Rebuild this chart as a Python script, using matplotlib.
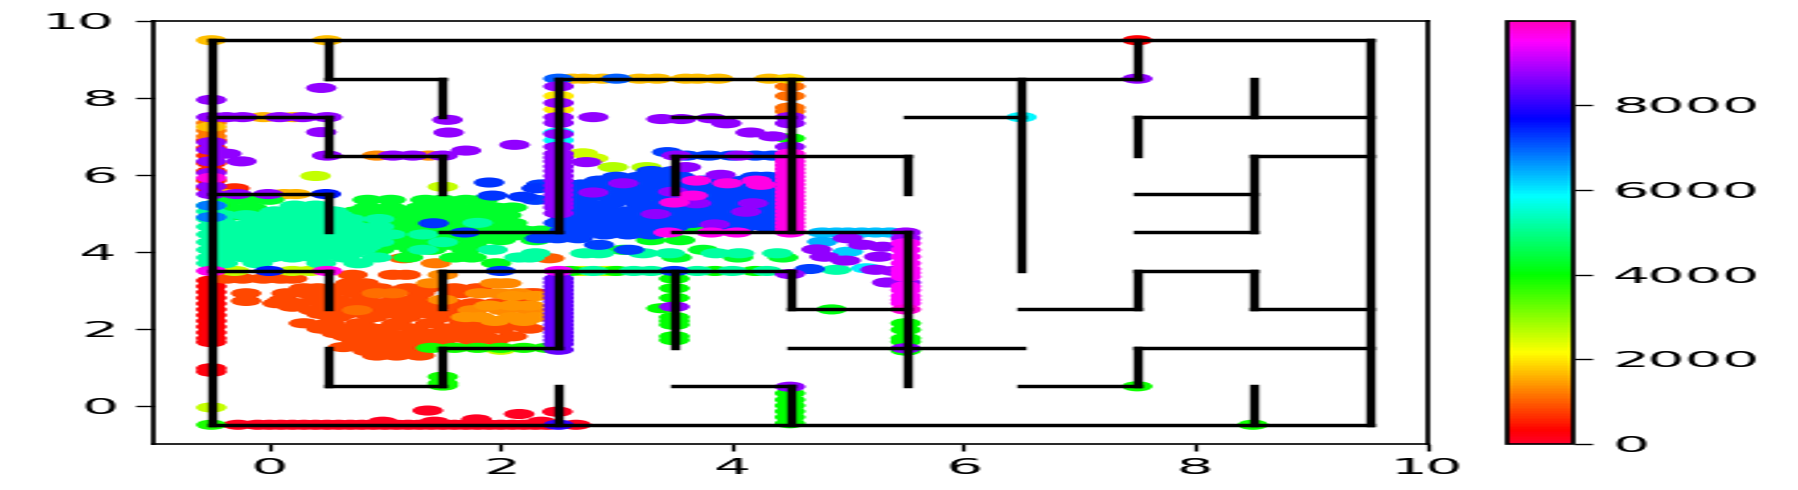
import matplotlib
matplotlib.use("Agg")
import matplotlib.pyplot as plt
from matplotlib.markers import MarkerStyle
from matplotlib.path import Path
from matplotlib.transforms import Affine2D
from PIL import Image

# maze walls: (y, x0, x1) and (x, y0, y1)
h_walls = [(9.5, -0.5, 9.5), (8.5, 0.5, 1.5), (8.5, 2.5, 7.5), (7.5, -0.5, 0.5), (7.5, 3.5, 4.5),
           (7.5, 5.5, 6.5), (7.5, 7.5, 9.5), (6.5, 0.5, 1.5), (6.5, 3.5, 5.5), (6.5, 8.5, 9.5),
           (5.5, -0.5, 0.5), (5.5, 7.5, 8.5), (4.5, 1.5, 2.5), (4.5, 3.5, 5.5), (4.5, 7.5, 8.5),
           (3.5, -0.5, 0.5), (3.5, 1.5, 4.5), (3.5, 7.5, 8.5), (2.5, 4.5, 5.5), (2.5, 6.5, 7.5),
           (2.5, 8.5, 9.5), (1.5, 1.5, 2.5), (1.5, 4.5, 6.5), (1.5, 7.5, 9.5), (0.5, 0.5, 1.5),
           (0.5, 3.5, 4.5), (0.5, 6.5, 7.5), (-0.5, -0.5, 9.5)]
v_walls = [(-0.5, -0.5, 9.5), (0.5, 8.5, 9.5), (0.5, 6.5, 7.5), (0.5, 4.5, 5.5), (0.5, 2.5, 3.5),
           (0.5, 0.5, 1.5), (1.5, 7.5, 8.5), (1.5, 5.5, 6.5), (1.5, 2.5, 3.5), (1.5, 0.5, 1.5),
           (2.5, 4.5, 8.5), (2.5, 1.5, 3.5), (2.5, -0.5, 0.5), (3.5, 5.5, 6.5), (3.5, 1.5, 3.5),
           (4.5, 4.5, 8.5), (4.5, 2.5, 3.5), (4.5, -0.5, 0.5), (5.5, 5.5, 6.5), (5.5, 0.5, 4.5),
           (6.5, 3.5, 8.5), (7.5, 8.5, 9.5), (7.5, 6.5, 7.5), (7.5, 2.5, 3.5), (7.5, 0.5, 1.5),
           (8.5, 7.5, 8.5), (8.5, 4.5, 6.5), (8.5, 2.5, 3.5), (8.5, -0.5, 0.5), (9.5, -0.5, 9.5)]

# visits, rows are (time, y, [x...])
bottom_rows = [(100, -0.5, [-0.27, -0.1, 0.0, 0.1, 0.2, 0.3, 0.4, 0.5, 0.6, 0.7, 0.8, 0.9, 1.0, 1.1, 1.2, 1.3, 1.4,
                            1.5, 1.6, 1.7, 1.8, 1.9, 2.0, 2.1, 2.2, 2.3, 2.4, 2.65]),
               (50, -0.13, [1.37]), (50, -0.22, [2.16]), (50, -0.16, [2.49]), (50, -0.42, [0.98, 1.43, 2.35]),
               (50, -0.36, [1.79]), (2600, -0.05, [-0.5]), (3800, -0.5, [-0.5]), (8000, -0.5, [2.5])]
orange_rows = [(850, 3.3, [-0.37, -0.23, -0.05, 0.1, 0.2]),
               (850, 3.4, [0.72, 1.07, 1.18]), (1300, 3.4, [1.5]),
               (850, 3.18, [0.7, 0.82]), (1300, 3.18, [1.4, 2.05, 1.95]),
               (850, 2.92, [-0.2, 0.15, 0.32, 0.52, 0.75, 1.3, 1.65, 2.25, 2.3]), (1100, 2.92, [0.93, 1.07]),
               (1300, 2.92, [1.82, 1.98, 2.15]),
               (850, 2.75, [0.12, 0.41, 0.58, 0.82, 1.1, 1.27]), (1300, 2.75, [1.5]), (850, 2.72, [-0.2]),
               (850, 2.66, [0.07, 0.24, 0.47, 0.64, 0.96, 1.24, 1.56, 1.76, 1.96, 2.19]),
               (850, 2.48, [0.38, 0.75, 1.04, 1.3]), (1100, 2.48, [0.76]), (1300, 2.48, [1.76, 2.02, 2.25]),
               (850, 2.3, [0.58, 0.9, 1.19, 1.5]), (1400, 2.3, [1.7, 1.82, 2.1, 2.3]),
               (850, 2.14, [0.3, 0.52, 0.78, 1.1, 1.39, 1.68, 1.94, 2.11]),
               (850, 1.88, [0.58, 0.81, 1.01, 1.24, 1.44, 1.67, 1.82]),
               (850, 1.8, [0.67, 0.99, 1.16, 1.33, 1.62, 1.85, 2.1]),
               (850, 1.52, [0.64, 0.87, 1.04, 1.21, 1.44]),
               (850, 1.3, [0.93, 1.1, 1.3]),
               (850, 3.05, [0.3, 0.42, 0.6, 0.8, 0.95, 1.2, 1.35, 1.6, 1.8]),
               (850, 2.57, [0.2, 0.55, 0.7, 0.9, 1.15, 1.4, 1.65, 1.85]),
               (850, 2.38, [0.45, 0.65, 0.85, 1.1, 1.2, 1.4, 1.6]),
               (850, 2.0, [0.45, 0.65, 0.9, 1.0, 1.25, 1.55, 1.8, 2.0, 2.25]),
               (850, 1.7, [0.75, 0.9, 1.1, 1.3, 1.5, 1.75, 1.95]),
               (850, 1.42, [0.85, 1.0, 1.2]),
               (1400, 2.6, [1.9, 2.1, 2.25]), (1400, 2.85, [2.1, 2.3]), (1400, 2.2, [1.95, 2.2])]
left_rows = [(200, 0.97, [-0.5]), (200, 0.88, [-0.5]),
             (250, 1.65, [-0.5]), (250, 1.75, [-0.5]), (250, 1.9, [-0.5]), (250, 2.05, [-0.5]), (250, 2.2, [-0.5]),
             (300, 2.35, [-0.5]), (300, 2.5, [-0.5]), (300, 2.65, [-0.5]), (300, 2.8, [-0.5]), (300, 2.95, [-0.5]),
             (300, 3.1, [-0.5]), (300, 3.25, [-0.5]),
             (600, 6.9, [-0.5]), (600, 6.7, [-0.5]), (600, 6.5, [-0.5]), (600, 6.3, [-0.5]),
             (600, 6.1, [-0.5]), (600, 5.85, [-0.5]), (600, 5.65, [-0.3, -0.5]),
             (1200, 7.35, [-0.5]), (1200, 7.15, [-0.5]), (1200, 7.0, [-0.5]), (1700, 7.25, [-0.5]),
             (1600, 7.5, [-0.05, 0.21]), (1600, 5.5, [0.23, -0.37, 0.13]),
             (1700, 9.5, [-0.5, 0.5]), (1300, 6.5, [0.93, 1.38]),
             (2600, 5.97, [0.4]), (2600, 5.69, [1.5]), (2600, 3.5, [-0.3, 0.2, 0.35, 2.9, 2.7, 2.95]),
             (6800, 5.2, [-0.5]), (6800, 4.9, [-0.5]),
             (8700, 7.95, [-0.5]), (8700, 8.26, [0.45]), (8700, 7.11, [0.45]), (8700, 7.43, [1.54]),
             (8700, 7.1, [1.55]), (8700, 7.5, [-0.5, -0.37, -0.23, 0.09, 0.29, 0.5]),
             (8700, 6.85, [-0.5]), (8700, 6.65, [-0.5]), (8700, 6.55, [-0.37]), (8700, 6.35, [-0.24, -0.5]),
             (8700, 6.05, [-0.5]), (8700, 5.7, [-0.5]), (8700, 5.5, [-0.5, -0.28, -0.01]),
             (8700, 6.5, [0.5, 1.07, 1.24, 1.5]), (8700, 6.63, [1.7]), (8700, 6.78, [2.12]),
             (9700, 5.92, [-0.5]), (9600, 3.5, [-0.5, 0.5]), (7500, 3.5, [0.0]), (7500, 5.5, [0.49])]
aqua_rows = [(5150, 5.2, [-0.5, 0.22, 0.4]), (5150, 5.05, [-0.5, 0.05, 0.25, 0.4, 0.55]),
             (5150, 4.85, [-0.5, -0.1, 0.1, 0.3, 0.45, 0.7, 0.95]),
             (5150, 4.65, [-0.5, -0.2, 0.0, 0.15, 0.35, 0.55, 0.75, 0.95]),
             (5150, 4.45, [-0.5, -0.35, -0.15, 0.05, 0.25, 0.45, 0.65, 0.85, 1.05, 1.33]),
             (5150, 4.25, [-0.5, -0.3, -0.1, 0.1, 0.3, 0.5, 0.7, 0.95, 1.5]),
             (5150, 4.05, [-0.5, -0.35, -0.15, 0.05, 0.25, 0.4, 0.6, 0.8, 1.33, 1.93]),
             (5150, 3.85, [-0.5, -0.4, -0.2, 0.0, 0.2, 0.4, 0.65, 0.93, 2.16, 2.25]),
             (5150, 3.7, [-0.5, -0.4, -0.1, 0.45, 0.77]),
             (5150, 4.95, [-0.4, -0.2, 0.0, 0.2, 0.38, 0.6]),
             (5150, 4.75, [-0.4, -0.15, 0.05, 0.25, 0.5, 0.65, 1.8]),
             (5150, 4.55, [-0.4, -0.25, -0.05, 0.1, 0.3, 0.5, 0.68, 0.85]),
             (5150, 4.35, [-0.42, -0.2, 0.0, 0.2, 0.38, 0.58, 0.78]),
             (5150, 4.15, [-0.4, -0.2, 0.0, 0.2, 0.42, 0.6, 0.85]),
             (5150, 3.95, [-0.45, -0.25, -0.05, 0.15, 0.33, 0.5, 0.7]),
             (5150, 3.96, [2.3, 2.73, 2.85, 3.23, 3.46, 3.86, 4.06, 4.39]),
             (5150, 3.5, [2.8, 3.15, 3.3, 3.7, 4.0, 4.3]),
             (1000, 3.83, [1.16, 2.42]), (1200, 3.7, [1.44])]
green_rows = [(4300, 5.35, [-0.35, -0.2, 0.0, 0.85, 1.05, 1.35, 1.5, 1.7, 1.85]),
              (4300, 5.15, [-0.35, -0.15, 0.85, 1.05, 1.3, 1.45, 1.6, 1.8, 1.95, 2.1]),
              (4300, 5.05, [0.75, 0.95, 1.15, 1.4, 1.55, 1.75, 1.9]),
              (4300, 4.95, [-0.3, -0.1, 0.7, 0.9, 1.1, 1.3, 1.5, 1.7, 1.9, 2.05]),
              (4300, 4.85, [0.8, 1.0, 1.2, 1.4, 1.6, 1.8, 2.0]),
              (4300, 4.75, [0.9, 1.1, 1.3, 1.5, 1.7, 1.9, 2.1]),
              (4300, 4.65, [1.0, 1.2, 1.4, 1.6, 1.85, 2.1]),
              (4300, 4.55, [1.1, 1.3, 1.5, 1.75, 2.0, 2.2, 2.35]),
              (4300, 4.42, [0.9, 1.15, 1.35, 1.55, 1.7, 1.9, 2.1, 2.25]),
              (4300, 4.3, [0.8, 1.05, 1.2, 1.4, 1.6, 1.8, 2.0, 2.3]),
              (4300, 4.18, [0.9, 1.1, 1.3, 1.55, 1.75]),
              (4300, 4.05, [0.75, 0.95, 1.25, 1.4, 1.7, 3.06, 3.75]),
              (4300, 3.85, [1.2, 1.6, 1.75, 3.52, 4.05, 4.44]), (4200, 3.7, [1.96]),
              (4200, 5.2, [2.75]), (4200, 5.0, [3.0]), (4200, 4.75, [2.8, 3.1]), (4200, 5.35, [3.35]),
              (4200, 4.6, [3.7]), (4200, 4.3, [3.3, 3.55]), (4000, 3.5, [2.6, 3.0, 3.85, 4.2]),
              (3900, 1.5, [1.4, 1.6, 1.8, 2.0, 2.2, 2.4]), (2600, 1.45, [2.0]),
              (3900, 0.75, [1.5]), (3900, 0.58, [1.5]), (3900, 0.52, [1.5]),
              (4100, 2.5, [4.86]), (4000, 2.53, [3.39]),
              (4000, 3.3, [3.5]), (4000, 3.05, [3.5]), (4000, 2.8, [3.5]), (4000, 2.3, [3.5]),
              (4000, 2.2, [3.5]), (4000, 2.1, [3.5]), (4000, 1.8, [3.5]), (4000, 1.7, [3.5]),
              (4000, 2.14, [5.5]), (4000, 1.97, [5.5]), (4000, 1.75, [5.5]), (4000, 1.66, [5.5]),
              (4000, 1.43, [5.5]), (4000, 6.95, [4.5]),
              (4000, 0.32, [4.5]), (4000, 0.15, [4.5]), (4000, 0.0, [4.5]), (4000, -0.15, [4.5]),
              (4000, -0.3, [4.5]), (4000, -0.46, [4.5]), (3900, 0.5, [7.5]), (3900, -0.5, [8.5])]
blue_rows = [(7250, 6.1, [3.3, 3.5]), (7250, 5.95, [3.0, 3.2, 3.35, 3.55, 4.2, 4.3]),
             (7250, 5.85, [2.85, 3.05, 3.25, 3.45, 3.75, 3.9, 4.1, 4.35]),
             (7250, 5.75, [2.7, 2.9, 3.15, 3.35, 3.55, 3.8, 4.0, 4.3, 2.35]),
             (7250, 5.65, [2.6, 2.8, 3.0, 3.25, 3.5, 3.7, 3.85, 4.1, 4.25]),
             (7250, 5.55, [2.55, 2.85, 3.15, 3.4, 3.6, 3.75, 3.95, 4.15, 4.3]),
             (7250, 5.45, [2.6, 2.8, 3.05, 3.25, 3.55, 3.8, 4.0, 4.2]),
             (7250, 5.35, [2.5, 2.7, 3.0, 3.15, 3.45, 3.65, 3.9, 4.1, 4.3, 2.3]),
             (7250, 5.25, [2.55, 2.75, 2.95, 3.2, 3.4, 3.6, 3.75, 3.9, 4.2]),
             (7250, 5.15, [2.6, 2.8, 3.3, 3.55, 3.8, 4.0, 4.3]),
             (7250, 5.05, [2.7, 2.9, 3.1, 3.4, 3.7, 3.95, 4.2]),
             (7250, 4.95, [2.6, 2.8, 3.0, 3.2, 3.6, 3.85, 4.1, 4.3]),
             (7250, 4.85, [2.55, 2.9, 3.1, 3.35, 3.55, 3.75, 3.9, 4.2]),
             (7250, 4.75, [2.5, 2.7, 3.05, 3.25, 3.45, 3.65, 4.0, 4.2, 4.3]),
             (7250, 4.65, [2.65, 2.9, 3.15, 3.35, 3.5, 3.9, 4.1, 4.3]),
             (7250, 4.55, [2.55, 2.8, 3.0, 3.2, 3.4]), (7250, 4.45, [2.65, 2.9, 3.1, 3.3]),
             (7250, 4.35, [2.34, 2.49, 2.67]),
             (7250, 4.18, [2.85]), (7250, 4.05, [3.11]), (7250, 6.5, [3.6, 3.8, 4.0, 4.2, 4.35]),
             (7250, 6.59, [3.44]), (7300, 5.8, [1.9]), (7300, 5.46, [1.93]), (7300, 5.43, [2.19]),
             (7300, 5.65, [2.31]), (7300, 4.74, [1.42]), (7300, 4.5, [1.69]), (7300, 3.5, [2.0, 3.5]),
             (7000, 8.5, [2.5, 3.0]), (2500, 6.56, [2.71]), (2500, 6.43, [2.8]),
             (2700, 6.2, [2.97, 3.26])]
late_rows = [(1700, 8.5, [2.62, 2.72, 2.88, 3.2, 3.35, 3.6, 3.7, 3.88, 4.32]), (1900, 8.5, [4.5]),
             (1100, 8.3, [4.5]), (1100, 8.05, [4.5]), (1100, 7.75, [4.5]), (1100, 7.65, [4.5]),
             (2000, 8.05, [2.5]), (2000, 7.7, [2.5]), (5900, 7.1, [2.5]), (5900, 6.9, [2.5]),
             (8700, 8.3, [2.5]), (8700, 7.87, [2.5]), (8700, 7.5, [2.5, 2.8, 4.5]), (8700, 7.35, [2.5]),
             (8700, 7.06, [2.5]), (8700, 6.73, [2.5, 4.5]), (8700, 6.55, [2.5]), (8700, 6.45, [2.5]),
             (8700, 6.35, [2.5]), (8700, 6.22, [2.5]), (8700, 6.1, [2.5]), (8700, 5.97, [2.5]), (8700, 5.85, [2.5]),
             (8700, 5.72, [2.5]), (8700, 5.6, [2.5]), (8700, 5.48, [2.5]), (8700, 5.35, [2.5]),
             (8700, 5.25, [2.5]), (8700, 5.15, [2.5]), (8700, 5.0, [2.5]), (8700, 7.45, [3.39, 3.56]),
             (8700, 7.47, [3.82]),
             (8700, 7.34, [3.95, 4.5]), (8700, 7.1, [4.16]), (8700, 7.0, [4.35]), (8700, 6.5, [3.52, 4.06]),
             (8700, 6.33, [2.74]), (8700, 6.2, [3.6]), (8700, 6.0, [3.9]), (8700, 5.78, [3.06]),
             (8700, 5.54, [2.8]), (8700, 4.98, [3.34]), (8700, 5.04, [4.12]), (8700, 5.26, [4.18, 3.69]),
             (8700, 4.71, [3.85]), (8700, 5.56, [3.49]),
             (9700, 5.85, [3.69, 4.21]), (9700, 5.78, [3.96]), (9700, 5.74, [4.25]), (9700, 5.46, [3.66]),
             (9700, 5.28, [3.5]), (9600, 4.5, [3.45, 3.82, 4.04, 4.5]),
             (9700, 6.55, [4.5]), (9700, 6.45, [4.5]), (9700, 6.35, [4.5]), (9700, 6.25, [4.5]), (9700, 6.15, [4.5]),
             (9700, 6.05, [4.5]), (9700, 5.95, [4.5]), (9700, 5.85, [4.5]), (9700, 5.75, [4.5]), (9700, 5.65, [4.5]),
             (9700, 5.55, [4.5]), (9700, 5.45, [4.5]), (9700, 5.35, [4.5]), (9700, 5.25, [4.5]), (9700, 5.15, [4.5]),
             (9700, 5.05, [4.5]), (9700, 4.95, [4.5]), (9700, 4.85, [4.5]), (9700, 4.75, [4.5]), (9700, 4.65, [4.5]),
             (9700, 4.55, [4.5]),
             (8400, 3.3, [2.5]), (8400, 3.2, [2.5]), (8400, 3.1, [2.5]), (8400, 3.0, [2.5]), (8400, 2.9, [2.5]),
             (8400, 2.8, [2.5]), (8400, 2.7, [2.5]), (8400, 2.6, [2.5]), (8400, 2.5, [2.5]), (8400, 2.4, [2.5]),
             (8400, 2.3, [2.5]), (8400, 2.2, [2.5]), (8400, 2.1, [2.5]), (8400, 2.0, [2.5]), (8400, 1.9, [2.5]),
             (8400, 1.8, [2.5]), (8400, 1.7, [2.5]), (8400, 1.6, [2.5]), (8400, 1.45, [2.5]),
             (9400, 3.5, [2.5]), (8700, 2.57, [3.5]), (8700, 3.42, [4.5]), (8700, 0.49, [4.5]),
             (6300, 4.5, [4.78, 4.9, 5.0, 5.12, 5.24, 5.36]), (6400, 4.26, [4.78]), (6200, 4.0, [5.0]),
             (7250, 3.55, [4.67]), (5200, 3.53, [4.9]), (6000, 3.57, [5.16]),
             (8700, 4.06, [4.73]), (8700, 4.35, [5.0]), (8700, 4.18, [5.13]), (8700, 3.77, [4.98]),
             (8700, 3.87, [4.8, 5.27]), (8700, 4.13, [5.3]), (8700, 3.53, [5.24]), (8700, 3.2, [5.34]),
             (8800, 4.5, [5.5]), (8800, 4.35, [5.5]), (8800, 3.5, [5.4]), (8800, 3.2, [5.5]),
             (9500, 4.22, [5.5]), (9500, 4.05, [5.5]), (9500, 3.87, [5.5]), (9500, 3.7, [5.5]), (9500, 3.55, [5.5]),
             (9500, 3.45, [5.5]), (9500, 3.35, [5.5]), (9500, 3.1, [5.5]), (9500, 3.0, [5.5]), (9500, 2.85, [5.5]),
             (9500, 2.75, [5.5]), (9500, 2.66, [5.5]), (9800, 2.5, [5.5]),
             (8700, 1.49, [5.5]), (5900, 7.5, [6.5]), (300, 9.5, [7.5]), (8700, 8.5, [7.5])]

all_rows = bottom_rows + orange_rows + left_rows + aqua_rows + green_rows + blue_rows + late_rows
pts = []
for t, y, xs in all_rows:
    for x in xs:
        pts.append((t, x, y))
pts.sort(key=lambda p: p[0])
times = [p[0] for p in pts]
xs = [p[1] for p in pts]
ys = [p[2] for p in pts]

W, H = 1798, 490
stretch = 2.644
plt.rcParams['font.size'] = 15.8
plt.rcParams['axes.linewidth'] = 1.2

ellipse = MarkerStyle(Path.unit_circle().transformed(Affine2D().scale(1.15, 1.0)))

fig = plt.figure(figsize=(W / stretch / 100, H / 100), dpi=100)
ax = fig.add_axes([153.5 / W, 1 - 444 / H, (1426.5 - 153.5) / W, (444 - 21) / H])
sc = ax.scatter(xs, ys, c=times, cmap='gist_rainbow', vmin=0, vmax=9985, s=70, marker=ellipse,
                linewidths=0, zorder=1)
for y, x0, x1 in h_walls:
    ax.plot([x0, x1], [y, y], color='k', lw=2.5, zorder=2)
for x, y0, y1 in v_walls:
    ax.plot([x, x], [y0, y1], color='k', lw=2.5, zorder=2)
ax.set_xlim(-1, 10)
ax.set_ylim(-1, 10)
ax.set_xticks([0, 2, 4, 6, 8, 10])
ax.set_yticks([0, 2, 4, 6, 8, 10])
ax.tick_params(length=5, width=1, pad=5)

cax = fig.add_axes([1508 / W, 1 - 444 / H, (1572 - 1508) / W, (444 - 21) / H])
cb = fig.colorbar(sc, cax=cax)
cb.set_ticks([0, 2000, 4000, 6000, 8000])
cb.ax.tick_params(length=5, width=1, pad=6)
cb.outline.set_linewidth(1.2)

fig.savefig("out.png", dpi=100)
# the reference is a wide stretch of a narrower figure
Image.open("out.png").convert("RGB").resize((W, H), Image.BICUBIC).save("out.png")
